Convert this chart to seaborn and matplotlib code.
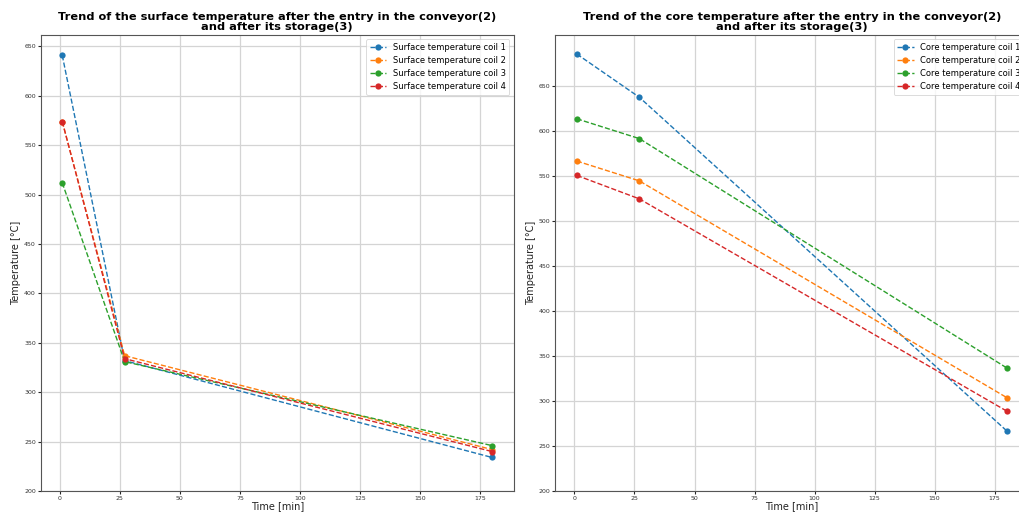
import pandas as pd
import seaborn as sns
import matplotlib.pyplot as plt

# time points (min)
time = [1, 27, 180]

# surface temperatures per coil
surface_coil1 = [641, 332, 234]
surface_coil2 = [574, 337, 242]
surface_coil3 = [512, 331, 246]
surface_coil4 = [574, 334, 240]

# core temperatures per coil
core_coil1 = [686, 638, 267]
core_coil2 = [567, 545, 304]
core_coil3 = [614, 592, 337]
core_coil4 = [551, 525, 289]

# y ticks used on both plots
temp_ticks = [200, 250, 300, 350, 400, 450, 500, 550, 600, 650]

surface = {
    'Surface temperature coil 1': surface_coil1,
    'Surface temperature coil 2': surface_coil2,
    'Surface temperature coil 3': surface_coil3,
    'Surface temperature coil 4': surface_coil4,
}
core = {
    'Core temperature coil 1': core_coil1,
    'Core temperature coil 2': core_coil2,
    'Core temperature coil 3': core_coil3,
    'Core temperature coil 4': core_coil4,
}


def to_long(series):
    rows = []
    for name, vals in series.items():
        for t, v in zip(time, vals):
            rows.append({'Time': t, 'Temp': v, 'Series': name})
    return pd.DataFrame(rows)


sns.set_style('ticks', {'axes.grid': True, 'grid.color': '#d4d4d4',
                        'axes.edgecolor': '#555555', 'text.color': 'black',
                        'axes.labelcolor': '#222222'})

fig = plt.figure(figsize=(10.19, 5.18), dpi=100)
ax1 = fig.add_axes([0.040, 0.052, 0.464, 0.880])
ax2 = fig.add_axes([0.545, 0.052, 0.464, 0.880])

titles = ['Trend of the surface temperature after the entry in the conveyor(2)\nand after its storage(3)',
          'Trend of the core temperature after the entry in the conveyor(2)\nand after its storage(3)']

for ax, series, title in zip([ax1, ax2], [surface, core], titles):
    df = to_long(series)
    sns.lineplot(data=df, x='Time', y='Temp', hue='Series', palette='tab10',
                 marker='o', markersize=4.5, markeredgewidth=0,
                 linestyle='--', linewidth=1.0, ax=ax)
    ax.set_ylim(bottom=200)
    ax.set_yticks(temp_ticks)
    ax.set_xlabel('Time [min]', fontsize=7, labelpad=0)
    ax.set_ylabel('Temperature [°C]', fontsize=7, labelpad=2)
    ax.set_title(title, fontsize=8.2, fontweight='bold', pad=4, linespacing=1.0,
                 color='black')
    ax.tick_params(labelsize=4.5, length=2, pad=1.5, labelcolor='#333333')
    ax.grid(True, linewidth=0.9)
    leg = ax.legend(loc='upper right', fontsize=6, title=None)
    leg.get_frame().set_linewidth(0.6)

fig.savefig('out.png', dpi=100)
